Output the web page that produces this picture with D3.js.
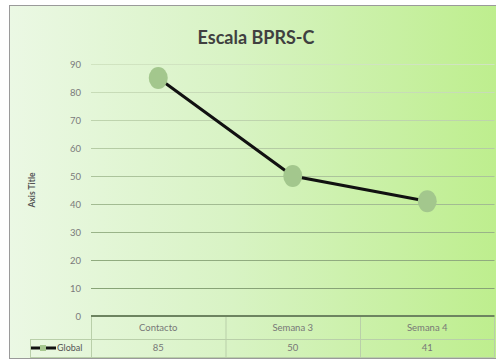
<!DOCTYPE html>
<html><head><meta charset="utf-8">
<script src="https://cdn.jsdelivr.net/npm/d3@7"></script>
<style>html,body{margin:0;padding:0;background:#fff;}svg{display:block;}</style>
</head><body>
<script>
const categories = ["Contacto", "Semana 3", "Semana 4"];
const seriesName = "Global";
const values = [85, 50, 41];
const yTicks = [0, 10, 20, 30, 40, 50, 60, 70, 80, 90];
const chartTitle = "Escala BPRS-C";
const yTitle = "Axis Title";

const W = 496, H = 364;
const svg = d3.select("body").append("svg").attr("width", W).attr("height", H);
const defs = svg.append("defs");
const bg = defs.append("linearGradient").attr("id", "bg").attr("x1", 0).attr("x2", 1).attr("y1", 0).attr("y2", 0);
bg.append("stop").attr("offset", 0).attr("stop-color", "#ebf8e4");
bg.append("stop").attr("offset", 0.45).attr("stop-color", "#d8f3c4");
bg.append("stop").attr("offset", 1).attr("stop-color", "#bdee8c");
const gg = defs.append("linearGradient").attr("id", "grid").attr("gradientUnits", "userSpaceOnUse")
  .attr("x1", 0).attr("x2", 0).attr("y1", 60).attr("y2", 320);
gg.append("stop").attr("offset", 0).attr("stop-color", "#d2e5c2");
gg.append("stop").attr("offset", 1).attr("stop-color", "#7d9a6c");

// chart area
svg.append("rect").attr("x", 9.5).attr("y", 5.5).attr("width", W).attr("height", 353)
  .attr("fill", "url(#bg)").attr("stroke", "#9a9a9a").attr("stroke-width", 1);

const plotL = 91, plotR = 494.5, plotT = 64, plotB = 316;
const x = d3.scaleBand().domain(categories).range([plotL, plotR]);
const y = d3.scaleLinear().domain([0, 90]).range([plotB, plotT]);

svg.append("text").attr("x", 256).attr("y", 44).attr("text-anchor", "middle")
  .attr("font-family", "Lato, 'Open Sans', sans-serif").attr("font-weight", "bold")
  .attr("font-size", 18).attr("fill", "#404040").text(chartTitle);

// y axis
const yAxis = d3.axisLeft(y).tickValues(yTicks).tickSize(0).tickPadding(10);
const ya = svg.append("g").attr("transform", `translate(${plotL},0)`).call(yAxis);
ya.select(".domain").remove();
ya.selectAll("text").attr("font-family", "Lato, sans-serif").attr("font-size", 9.5).attr("fill", "#7a7a7a");

// gridlines
svg.append("g").selectAll("line").data(yTicks.filter(d => d > 0)).join("line")
  .attr("x1", plotL).attr("x2", plotR).attr("y1", d => y(d) + 0.5).attr("y2", d => y(d) + 0.5)
  .attr("stroke", "url(#grid)").attr("stroke-width", 1.2);
svg.append("line").attr("x1", plotL).attr("x2", plotR).attr("y1", y(0)).attr("y2", y(0))
  .attr("stroke", "#6d8460").attr("stroke-width", 2);

svg.append("text").attr("transform", `translate(35,${(plotT + plotB) / 2}) rotate(-90)`)
  .attr("text-anchor", "middle").attr("font-family", "Lato, sans-serif").attr("font-weight", "bold")
  .attr("font-size", 8.5).attr("fill", "#555").text(yTitle);

// data table
const r1T = 317, r1B = 339, r2B = 357, tblL = 30;
const tc = "#b9cfa9";
const tbl = svg.append("g");
tbl.append("line").attr("x1", tblL).attr("x2", plotR).attr("y1", r1B + 0.5).attr("y2", r1B + 0.5).attr("stroke", tc);
tbl.append("line").attr("x1", tblL).attr("x2", plotR).attr("y1", r2B + 0.5).attr("y2", r2B + 0.5).attr("stroke", tc);
tbl.append("line").attr("x1", tblL + 0.5).attr("x2", tblL + 0.5).attr("y1", r1B).attr("y2", r2B).attr("stroke", tc);
tbl.selectAll("line.v").data(categories).join("line").attr("class", "v")
  .attr("x1", d => x(d) + 0.5).attr("x2", d => x(d) + 0.5).attr("y1", r1T).attr("y2", r2B).attr("stroke", tc);
tbl.append("line").attr("x1", plotR).attr("x2", plotR).attr("y1", r1T).attr("y2", r2B).attr("stroke", tc);
tbl.selectAll("text.cat").data(categories).join("text").attr("class", "cat")
  .attr("x", d => x(d) + x.bandwidth() / 2).attr("y", 331).attr("text-anchor", "middle")
  .attr("font-family", "Lato, sans-serif").attr("font-size", 9.5).attr("fill", "#777").text(d => d);
tbl.selectAll("text.val").data(values).join("text").attr("class", "val")
  .attr("x", (d, i) => x(categories[i]) + x.bandwidth() / 2).attr("y", 351).attr("text-anchor", "middle")
  .attr("font-family", "Lato, sans-serif").attr("font-size", 9.5).attr("fill", "#777").text(d => d);
// legend key
tbl.append("line").attr("x1", 31).attr("x2", 56).attr("y1", 348).attr("y2", 348).attr("stroke", "#111").attr("stroke-width", 3);
tbl.append("rect").attr("x", 40).attr("y", 345).attr("width", 6).attr("height", 6).attr("fill", "#a6c78f");
tbl.append("text").attr("x", 57).attr("y", 351).attr("font-family", "Lato, sans-serif").attr("font-size", 9)
  .attr("fill", "#555").text(seriesName);

// line + markers
const pts = values.map((v, i) => [x(categories[i]) + x.bandwidth() / 2, y(v)]);
svg.append("path").attr("d", d3.line()(pts)).attr("fill", "none").attr("stroke", "#111").attr("stroke-width", 3);
svg.append("g").selectAll("ellipse").data(values).join("ellipse")
  .attr("cx", (d, i) => x(categories[i]) + x.bandwidth() / 2).attr("cy", d => y(d))
  .attr("rx", 9.5).attr("ry", 11).attr("fill", "#a3c78d");
</script>
</body></html>
